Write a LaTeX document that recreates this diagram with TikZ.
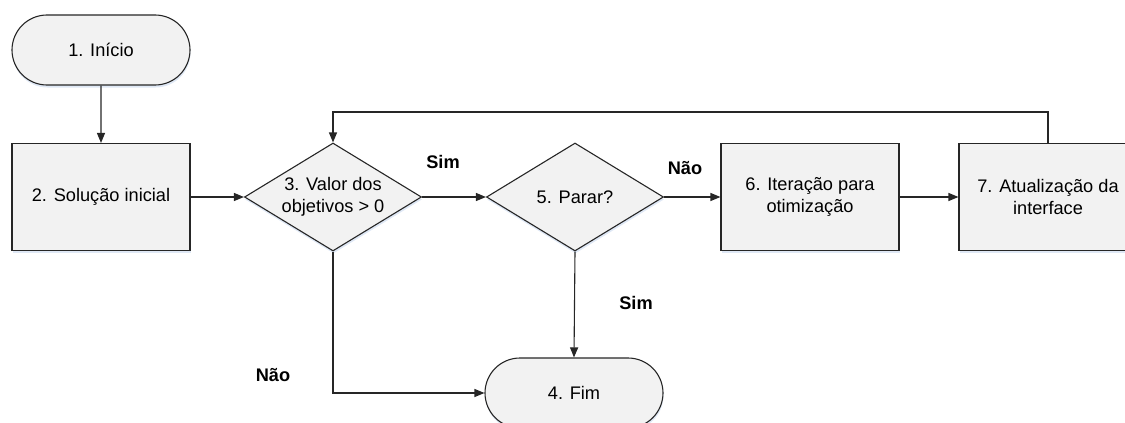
\documentclass[tikz,border=0pt]{standalone}
\usepackage{fontspec}
\setmainfont{Liberation Sans}
\usetikzlibrary{shapes.geometric,shapes.misc,arrows.meta,shadows}
\definecolor{boxfill}{HTML}{F2F2F2}
\definecolor{edge}{HTML}{262626}
\definecolor{shade}{HTML}{C9D8EE}
\begin{document}
\begin{tikzpicture}[x=1pt,y=-1pt,
  every node/.style={font=\fontsize{18.2}{22}\selectfont, text=black},
  base/.style={draw=edge, line width=1.1pt, fill=boxfill, align=center, inner sep=0pt,
    drop shadow={shadow xshift=0.5pt, shadow yshift=-2.5pt, fill=shade, opacity=0.6}},
  terminal/.style={base, rounded rectangle, minimum width=178pt, minimum height=70pt},
  process/.style={base, rectangle, minimum width=178pt, minimum height=107pt},
  decision/.style={base, diamond, aspect=1.64, minimum width=177pt, minimum height=108pt},
  flow/.style={draw=edge, line width=1.1pt, -{Triangle[length=10pt,width=8pt]}},
  answer/.style={font=\fontsize{18.2}{22}\selectfont\bfseries}
]
\useasboundingbox (0,0) rectangle (1125,423);
\clip (0,0) rectangle (1125,423);

% shapes
\node[terminal] (inicio) at (101,50) {1. Início};
\node[process]  (sol)    at (101,197) {2. Solução inicial};
\node[decision] (valor)  at (333,197) {3. Valor dos\\objetivos > 0};
\node[decision] (parar)  at (575,197) {5. Parar?};
\node[process]  (iter)   at (810,197) {6. Iteração para\\otimização};
\node[process]  (atual)  at (1048,197) {7. Atualização da\\interface};
\node[terminal] (fim)    at (574,393) {4. Fim};

% loop-back corner points
\coordinate (topR) at (1048,112);
\coordinate (topL) at (333,112);
\coordinate (lowL) at (333,393);

% connectors
\draw[flow] (inicio) -- (sol);
\draw[flow] (sol) -- (valor);
\draw[flow] (valor) -- (parar);
\draw[flow] (parar) -- (iter);
\draw[flow] (iter) -- (atual);
\draw[flow] (atual.north) -- (topR) -- (topL) -- (valor.north);
\draw[flow] (parar.south) -- (fim.north);
\draw[flow] (valor.south) -- (lowL) -- (fim.west);

% branch answers
\node[answer] (sim1) at (443,162) {Sim};
\node[answer] (nao1) at (685,168) {Não};
\node[answer] (sim2) at (636,303) {Sim};
\node[answer] (nao2) at (273,375) {Não};
\end{tikzpicture}
\end{document}
